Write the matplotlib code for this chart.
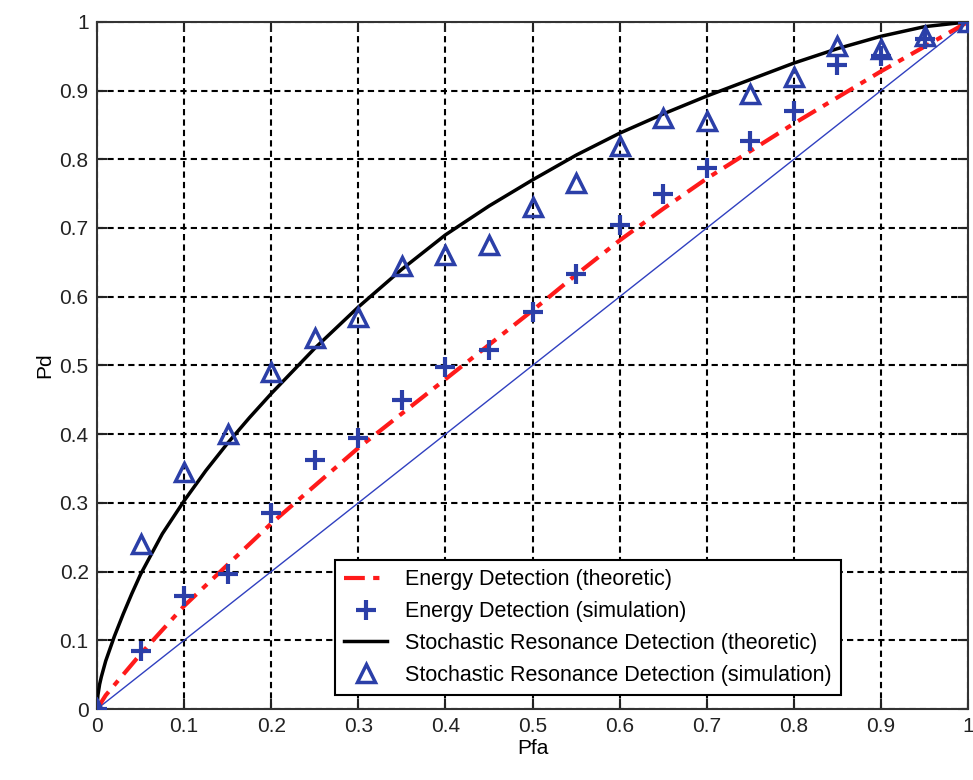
import matplotlib.pyplot as plt
import numpy as np

plt.rcParams['font.family'] = ['Liberation Sans', 'DejaVu Sans']

# theoretic curves
pfa_th = [0, 0.001, 0.003, 0.005, 0.01, 0.02, 0.03, 0.04, 0.05, 0.075, 0.1, 0.125, 0.15,
          0.175, 0.2, 0.25, 0.3, 0.35, 0.4, 0.45, 0.5, 0.55, 0.6, 0.65, 0.7, 0.75, 0.8,
          0.85, 0.9, 0.95, 1.0]
pd_ed_th = [0, 0.002, 0.006, 0.01, 0.02, 0.035, 0.05, 0.065, 0.08, 0.115, 0.15, 0.18, 0.21,
            0.24, 0.27, 0.325, 0.38, 0.43, 0.48, 0.53, 0.58, 0.632, 0.682, 0.728, 0.772,
            0.812, 0.852, 0.89, 0.928, 0.964, 1.0]
pd_sr_th = [0, 0.02, 0.036, 0.047, 0.07, 0.106, 0.138, 0.168, 0.196, 0.255, 0.303, 0.347,
            0.387, 0.424, 0.459, 0.525, 0.585, 0.64, 0.69, 0.732, 0.77, 0.806, 0.838, 0.866,
            0.892, 0.916, 0.94, 0.961, 0.979, 0.993, 1.0]

# simulation points
pfa_sim = [0, 0.05, 0.1, 0.15, 0.2, 0.25, 0.3, 0.35, 0.4, 0.45, 0.5,
           0.55, 0.6, 0.65, 0.7, 0.75, 0.8, 0.85, 0.9, 0.95, 1.0]
pd_ed_sim = [0, 0.085, 0.165, 0.197, 0.285, 0.362, 0.395, 0.45, 0.497, 0.523, 0.578,
             0.633, 0.705, 0.75, 0.788, 0.826, 0.87, 0.937, 0.95, 0.975, 1.0]
pd_sr_sim = [0, 0.24, 0.345, 0.40, 0.49, 0.54, 0.57, 0.645, 0.66, 0.675, 0.73,
             0.765, 0.82, 0.86, 0.855, 0.895, 0.92, 0.965, 0.96, 0.98, 1.0]

fig = plt.figure(figsize=(9.73, 7.8), dpi=100)
ax = fig.add_axes([0.0997, 0.091, 0.8953, 0.881])

blue = '#2b3fa8'
ax.plot([0, 1], [0, 1], color='#3040c0', lw=1.0, zorder=2)
l1, = ax.plot(pfa_th, pd_ed_th, color='#ff1a1a', ls=(0, (5, 2, 1.5, 2)), lw=3.0,
              label='Energy Detection (theoretic)', zorder=3)
l2, = ax.plot(pfa_sim, pd_ed_sim, ls='none', marker='+', ms=14, mew=3, color=blue,
              label='Energy Detection (simulation)', zorder=4)
l3, = ax.plot(pfa_th, pd_sr_th, color='black', lw=2.5,
              label='Stochastic Resonance Detection (theoretic)', zorder=3)
l4, = ax.plot(pfa_sim, pd_sr_sim, ls='none', marker='^', ms=13, mew=2.5, mfc='none',
              mec=blue, label='Stochastic Resonance Detection (simulation)', zorder=4)

ax.set_xlim(0, 1)
ax.set_ylim(0, 1)
ticks = np.arange(0, 1.01, 0.1)
labels = ['0'] + ['%.1f' % t for t in ticks[1:-1]] + ['1']
ax.set_xticks(ticks)
ax.set_xticklabels(labels)
ax.set_yticks(ticks)
ax.set_yticklabels(labels)
ax.tick_params(direction='in', top=True, right=True, length=7, width=1.5,
               labelsize=15, colors='#222222', pad=6)
ax.grid(True, color='black', ls=(0, (3, 2)), lw=1.5)
for s in ax.spines.values():
    s.set_linewidth(1.5)
    s.set_color('#333333')
ax.set_xlabel('Pfa', fontsize=15, labelpad=2)
ax.set_ylabel('Pd', fontsize=15, labelpad=4)

leg = ax.legend(handles=[l1, l2, l3, l4], loc='lower right', bbox_to_anchor=(0.854, 0.02),
                fontsize=15.5, fancybox=False, framealpha=1, edgecolor='black',
                handlelength=2.0, borderpad=0.45, labelspacing=0.5, handletextpad=0.8,
                borderaxespad=0)
leg.get_frame().set_linewidth(1.5)

fig.savefig('out.png', dpi=100)
